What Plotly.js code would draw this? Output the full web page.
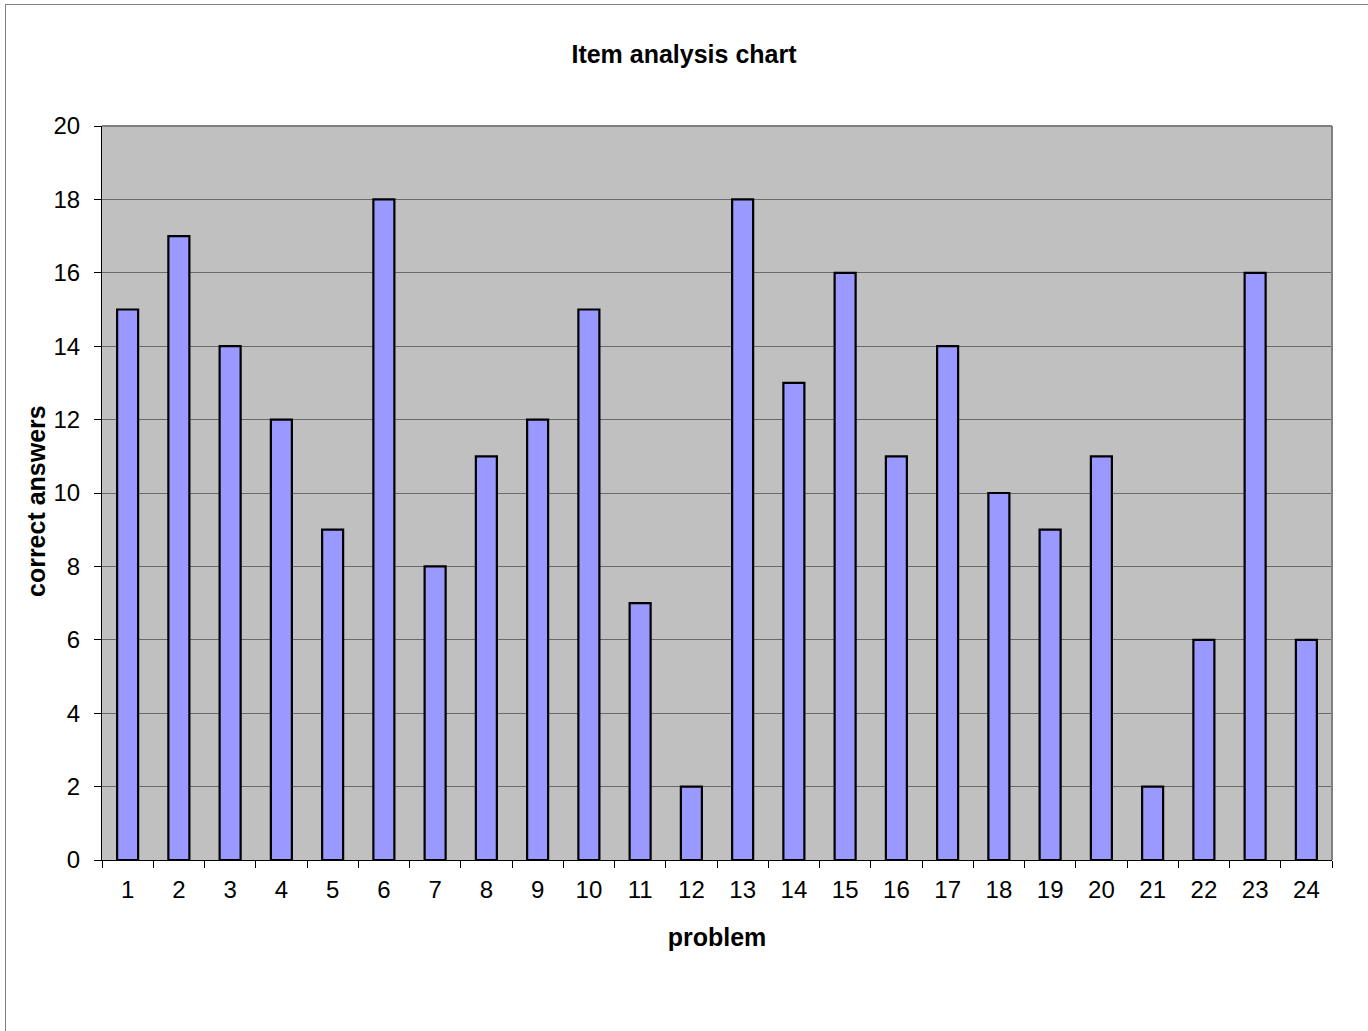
<!DOCTYPE html>
<html>
<head>
<meta charset="utf-8">
<script src="https://cdn.plot.ly/plotly-3.0.1.min.js"></script>
<style>
html,body{margin:0;padding:0;background:#fff;}
#frame{position:absolute;left:5px;top:4px;width:1400px;height:1100px;border-left:1px solid #808080;border-top:1px solid #808080;pointer-events:none;z-index:10;}
#chart{position:absolute;left:0;top:0;width:1368px;height:1031px;}
</style>
</head>
<body>
<div id="chart"></div>
<div id="frame"></div>
<script>
const problems = ['1','2','3','4','5','6','7','8','9','10','11','12','13','14','15','16','17','18','19','20','21','22','23','24'];
const correctAnswers = [15,17,14,12,9,18,8,11,12,15,7,2,18,13,16,11,14,10,9,11,2,6,16,6];
const yTicks = [0,2,4,6,8,10,12,14,16,18,20];

const font = 'Liberation Sans, Arial, sans-serif';

const trace = {
  type: 'bar',
  x: problems,
  y: correctAnswers,
  width: 0.41,
  marker: {color: '#9999FF', line: {color: '#000000', width: 2.2}},
  hoverinfo: 'x+y'
};

const layout = {
  width: 1368, height: 1031,
  margin: {l: 102, r: 36, t: 126, b: 171, pad: 0},
  paper_bgcolor: '#ffffff',
  plot_bgcolor: '#C0C0C0',
  showlegend: false,
  title: {text: '<b>Item analysis chart</b>', font: {family: font, size: 25, color: '#000'}, x: 0.5, xanchor: 'center', y: 0.947, yanchor: 'middle'},
  xaxis: {
    type: 'category',
    tickson: 'boundaries',
    ticks: 'outside', ticklen: 7, tickcolor: '#000', tickwidth: 1,
    ticklabelstandoff: 8,
    showline: true, linecolor: '#000', linewidth: 1,
    showgrid: false,
    tickfont: {family: font, size: 24, color: '#000'},
    title: {text: '<b>problem</b>', font: {family: font, size: 25, color: '#000'}, standoff: 26},
    range: [-0.5, 23.5],
    fixedrange: true
  },
  yaxis: {
    range: [0, 20],
    tickvals: yTicks,
    ticktext: yTicks.map(String),
    ticks: 'outside', ticklen: 7, tickcolor: '#000', tickwidth: 1,
    ticklabelstandoff: 9,
    showline: true, linecolor: '#000', linewidth: 1,
    showgrid: true, gridcolor: '#6a6a6a', gridwidth: 1,
    zeroline: false,
    tickfont: {family: font, size: 24, color: '#000'},
    fixedrange: true
  },
  annotations: [
    {text: '<b>correct answers</b>', xref: 'paper', yref: 'paper', x: -0.0537, y: 0.489,
     xanchor: 'center', yanchor: 'middle', textangle: -90, showarrow: false,
     font: {family: font, size: 25, color: '#000'}}
  ],
  shapes: [
    {type: 'line', xref: 'paper', yref: 'paper', x0: 0, x1: 1, y0: 1, y1: 1, line: {color: '#808080', width: 2}},
    {type: 'line', xref: 'paper', yref: 'paper', x0: 1, x1: 1, y0: 0, y1: 1, line: {color: '#808080', width: 2}}
  ],
  bargap: 0.59
};

Plotly.newPlot('chart', [trace], layout, {displayModeBar: false, staticPlot: true});
</script>
</body>
</html>
